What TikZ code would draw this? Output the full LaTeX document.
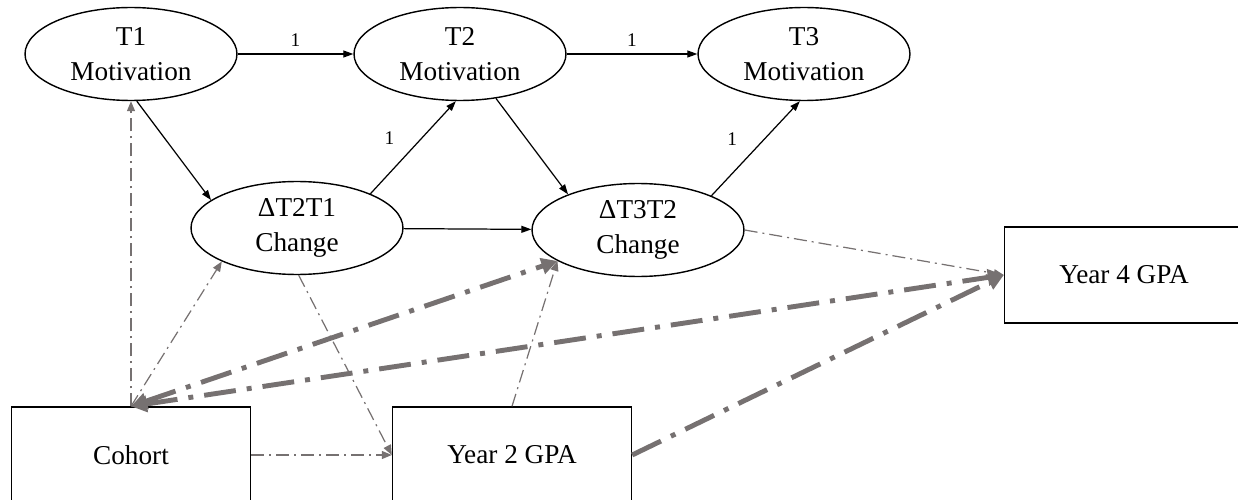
\documentclass[tikz,border=0pt]{standalone}
\usepackage{fontspec}
\setmainfont{Liberation Serif}
\usetikzlibrary{shapes.geometric,arrows.meta}
\definecolor{pathgray}{RGB}{118,113,113}

\begin{document}
\begin{tikzpicture}[x=0.02cm, y=-0.02cm,
    latent/.style={draw=black, line width=0.8pt, ellipse, minimum width=4.24cm, minimum height=1.86cm, inner sep=0pt, align=center, font=\fontsize{15.5}{20}\selectfont},
    observed/.style={draw=black, line width=0.8pt, rectangle, minimum width=4.78cm, minimum height=1.92cm, inner sep=0pt, font=\fontsize{15.5}{20}\selectfont},
    solidpath/.style={-{Triangle[length=0.2cm,width=0.14cm]}, line width=0.7pt, black},
    thinpath/.style={-{Triangle[length=0.2cm,width=0.16cm]}, line width=0.7pt, pathgray, dash pattern=on 0.26cm off 0.1cm on 0.04cm off 0.1cm},
    thickpath/.style={-{Triangle[length=0.32cm,width=0.32cm]}, line width=2.8pt, pathgray, dash pattern=on 0.64cm off 0.22cm on 0.1cm off 0.22cm},
    thickcorr/.style={thickpath, {Triangle[length=0.32cm,width=0.32cm]}-{Triangle[length=0.32cm,width=0.32cm]}},
    lbl/.style={font=\fontsize{11}{13}\selectfont, inner sep=1pt}]
    \useasboundingbox (0,0) rectangle (1238,500);

    % Motivation at each wave
    \node[latent] (T1) at (131,54) {T1\\Motivation};
    \node[latent] (T2) at (460,54) {T2\\Motivation};
    \node[latent] (T3) at (804,54) {T3\\Motivation};

    % Change scores
    \node[latent] (D21) at (297,228) {ΔT2T1\\Change};
    \node[latent] (D32) at (638,230) {ΔT3T2\\Change};

    % Observed variables
    \node[observed] (Coh) at (131,455) {Cohort};
    \node[observed] (Y2) at (512,455) {Year 2 GPA};
    \node[observed] (Y4) at (1124,275) {Year 4 GPA};

    % Fixed paths
    \draw[solidpath] (T1) -- node[lbl, above=3pt] {1} (T2);
    \draw[solidpath] (T2) -- node[lbl, above=3pt] {1} (T3);
    \draw[solidpath] (T1.277) -- (D21.162);
    \draw[solidpath] (D21.25) -- node[lbl, pos=0.6, left=0.5cm] {1} (T2.265);
    \draw[solidpath] (T2.309) -- (D32.153);
    \draw[solidpath] (D32.25) -- node[lbl, pos=0.6, left=0.5cm] {1} (T3.265);
    \draw[solidpath] (D21) -- (D32);

    % Covariate and outcome paths
    \draw[thinpath] (Coh.north) -- (T1.south);
    \draw[thinpath] (Coh.north) -- (D21.204);
    \draw[thinpath] (Coh) -- (Y2);
    \draw[thinpath] (D21.272) -- (Y2.west);
    \draw[thinpath] (Y2.north) -- (D32.201);
    \draw[thinpath] (D32.east) -- (Y4.west);
    \draw[thickcorr] (Coh.north) -- (D32.201);
    \draw[thickcorr] (Coh.north) -- (Y4.west);
    \draw[thickpath] (Y2.east) -- (Y4.west);
\end{tikzpicture}
\end{document}
